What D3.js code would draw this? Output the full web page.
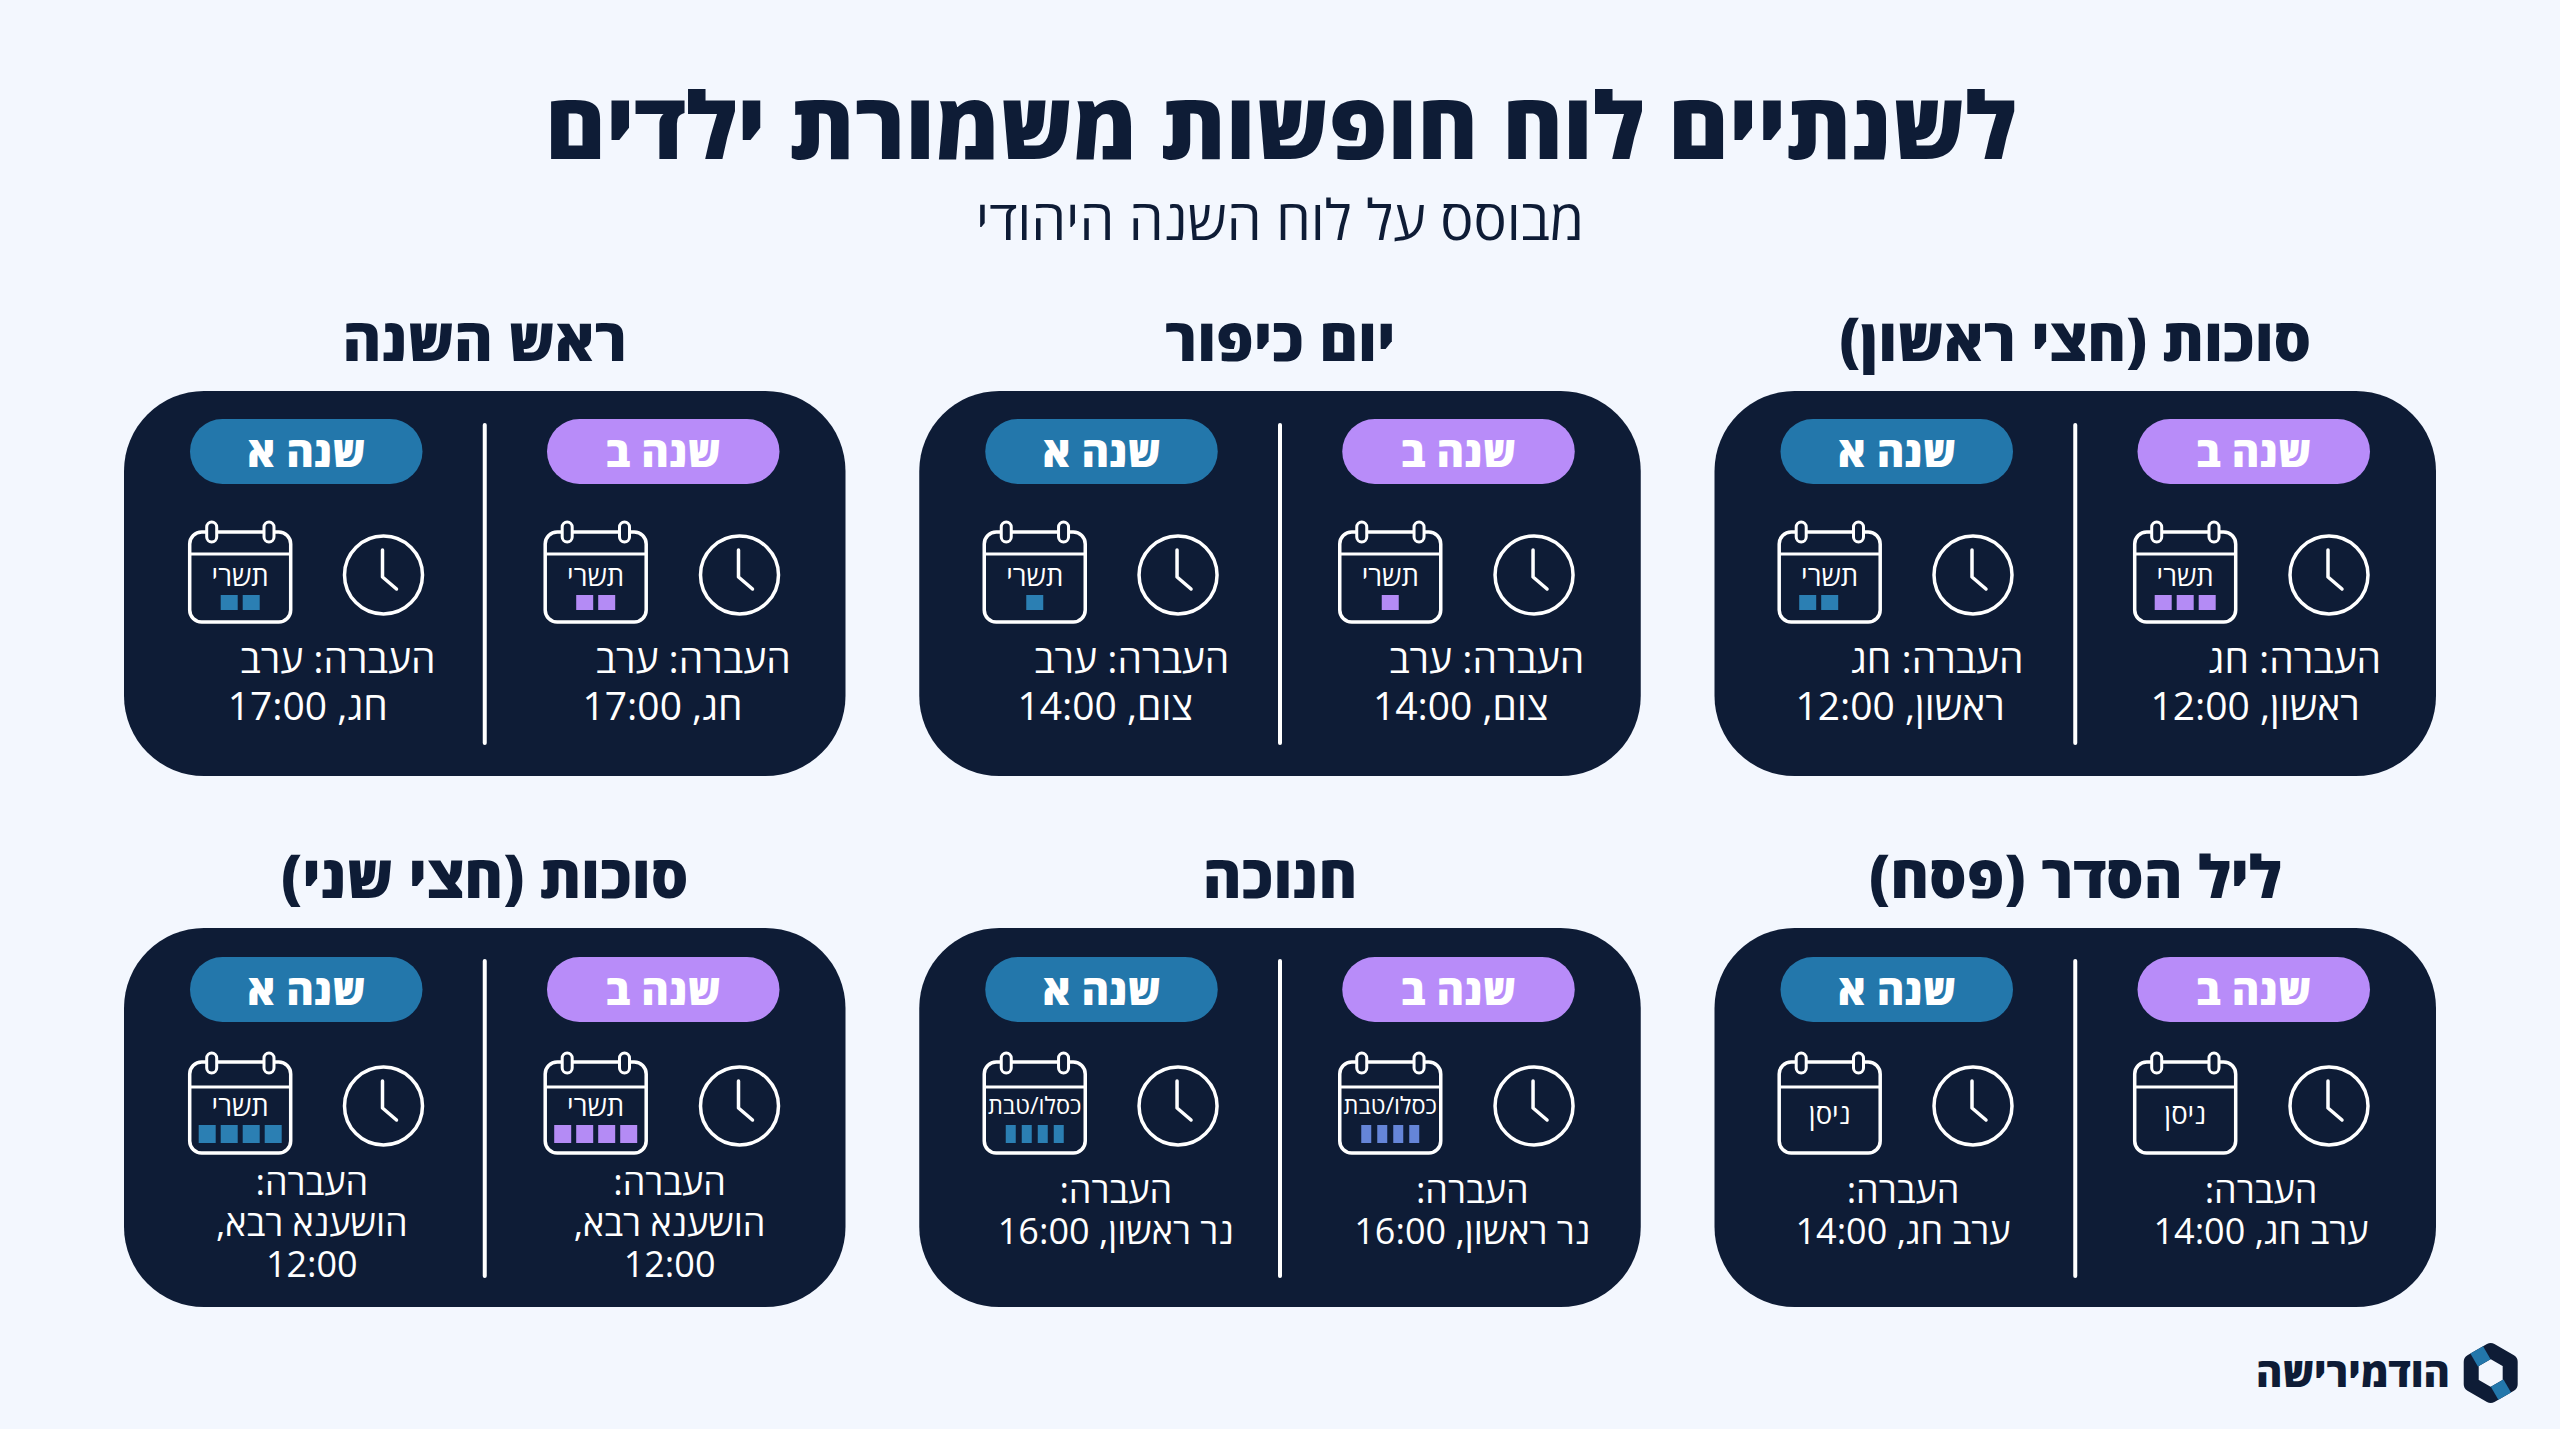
<!DOCTYPE html>
<html lang="he">
<head>
<meta charset="utf-8">
<title>לוח חופשות משמורת ילדים</title>
<script src="https://cdn.jsdelivr.net/npm/d3@7"></script>
<style>
  html, body { margin: 0; padding: 0; background: #f3f7fe; }
  svg { display: block; direction: rtl; font-family: "Open Sans", "Noto Sans", sans-serif; }
</style>
</head>
<body>
<div id="chart"></div>
<script>
// data, first card is top right, reading order is right to left
var mainTitle = "לשנתיים לוח חופשות משמורת ילדים";
var subTitle = "מבוסס על לוח השנה היהודי";
var brandName = "הודמירישה";
var holidays = ["סוכות (חצי ראשון)", "יום כיפור", "ראש השנה", "ליל הסדר (פסח)", "חנוכה", "סוכות (חצי שני)"];
var months = ["תשרי", "תשרי", "תשרי", "ניסן", "כסלו/טבת", "תשרי"];
var yearLabels = ["שנה ב", "שנה א"];
var daysYearB = [3, 1, 2, 0, 4, 4];
var daysYearA = [2, 1, 2, 0, 4, 4];
var transfers = [
  ["העברה: חג", "ראשון, 12:00"],
  ["העברה: ערב", "צום, 14:00"],
  ["העברה: ערב", "חג, 17:00"],
  ["העברה:", "ערב חג, 14:00"],
  ["העברה:", "נר ראשון, 16:00"],
  ["העברה:", "הושענא רבא,", "12:00"]
];

// layout
var width = 2560, height = 1429;
var navy = "#0e1c36", white = "#ffffff";
var yearColors = ["#b88cf9", "#2377ab"];
var squareColors = ["#b48bf5", "#2b7fb3"];
var hanukkahColors = ["#6585d8", "#2b7fb3"];
var cardW = 721.5;
var cardX = d3.scalePoint().domain([0, 1, 2]).range([1714.5, 124]);
var cardY = d3.scalePoint().domain([0, 1]).range([391, 928]);
var rows = [
  { h: 385, lineTop: 34, lineBottom: 352, pillY: 28, calTop: 141, calH: 90, headH: 22, ringTop: 131, clockY: 184, monthY: 195, squareY: 204, squareH: 15, lineY: [282, 329], lineSize: 39 },
  { h: 379, lineTop: 33, lineBottom: 348, pillY: 29, calTop: 134, calH: 91, headH: 25, ringTop: 125, clockY: 178, monthY: 188, squareY: 197, squareH: 18, lineY: [274.7, 316], lineSize: 36 }
];
// panel 0 is the right half (year B), panel 1 the left half (year A)
var pillX = [423, 66], pillW = 232.5, calX = [420.2, 64.7], calW = 101, clockX = [614.5, 258.5];
var iconShift = [0, 0.3, 1];
var textCx = [[540.5, 185.5], [541.5, 186], [538.5, 183.7], [546.5, 188.5], [553, 196.5], [545.6, 187.8]];
var firstLineRight = [[666.6, 309], [665, 310], [666.7, 311.4]];

var svg = d3.select("#chart").append("svg")
    .attr("width", width)
    .attr("height", height)
    .attr("viewBox", "0 0 " + width + " " + height);

svg.append("rect").attr("width", width).attr("height", height).attr("fill", "#f3f7fe");

svg.append("text")
    .attr("x", 1280.5).attr("y", 159)
    .attr("text-anchor", "middle")
    .attr("font-size", 92.5).attr("font-weight", 800)
    .attr("fill", navy)
    .text(mainTitle);

svg.append("text")
    .attr("x", 1280).attr("y", 240)
    .attr("text-anchor", "middle")
    .attr("font-size", 55.5)
    .attr("fill", navy)
    .text(subTitle);

var cards = svg.selectAll("g.card")
  .data(holidays)
  .enter().append("g")
    .attr("class", "card")
    .attr("transform", function(d, i) {
      return "translate(" + cardX(i % 3) + "," + cardY(Math.floor(i / 3)) + ")";
    });

cards.append("text")
    .attr("x", cardW / 2)
    .attr("y", -30)
    .attr("text-anchor", "middle")
    .attr("font-size", 59).attr("font-weight", 800)
    .attr("fill", navy)
    .text(function(d) { return d; });

cards.append("rect")
    .attr("width", cardW)
    .attr("height", function(d, i) { return rows[Math.floor(i / 3)].h; })
    .attr("rx", 80).attr("ry", 80)
    .attr("fill", navy);

cards.append("line")
    .attr("x1", cardW / 2).attr("x2", cardW / 2)
    .attr("y1", function(d, i) { return rows[Math.floor(i / 3)].lineTop; })
    .attr("y2", function(d, i) { return rows[Math.floor(i / 3)].lineBottom; })
    .attr("stroke", white).attr("stroke-width", 4).attr("stroke-linecap", "round");

cards.each(function(holiday, i) {
  var card = d3.select(this);
  var r = rows[Math.floor(i / 3)];
  var shift = iconShift[i % 3];

  yearLabels.forEach(function(label, p) {
    var panel = card.append("g");

    panel.append("rect")
        .attr("x", pillX[p]).attr("y", r.pillY)
        .attr("width", pillW).attr("height", 65)
        .attr("rx", 32.5)
        .attr("fill", yearColors[p]);

    panel.append("text")
        .attr("x", pillX[p] + pillW / 2)
        .attr("y", r.pillY + 48)
        .attr("text-anchor", "middle")
        .attr("font-size", 42).attr("font-weight", 800)
        .attr("fill", white)
        .text(label);

    // calendar icon
    var cal = panel.append("g").attr("transform", "translate(" + (calX[p] + shift) + ",0)");
    cal.append("rect")
        .attr("y", r.calTop).attr("width", calW).attr("height", r.calH)
        .attr("rx", 12)
        .attr("fill", "none").attr("stroke", white).attr("stroke-width", 3.5);
    cal.append("line")
        .attr("x1", 0).attr("x2", calW)
        .attr("y1", r.calTop + r.headH).attr("y2", r.calTop + r.headH)
        .attr("stroke", white).attr("stroke-width", 3);
    cal.selectAll("rect.ring")
      .data([22, 79.3])
      .enter().append("rect")
        .attr("class", "ring")
        .attr("x", function(d) { return d - 5; })
        .attr("y", r.ringTop)
        .attr("width", 10).attr("height", 20)
        .attr("rx", 5)
        .attr("fill", navy).attr("stroke", white).attr("stroke-width", 3);

    // month inside the calendar
    var month = months[i];
    var noDays = month === "ניסן";
    var narrow = month.length > 5;
    cal.append("text")
        .attr("x", calW / 2)
        .attr("y", noDays ? r.monthY + 8 : (narrow ? r.monthY - 2 : r.monthY))
        .attr("text-anchor", "middle")
        .attr("font-size", narrow ? 23.5 : 27.5)
        .attr("fill", white)
        .text(month);

    // squares for the holiday days
    var count = (p === 0 ? daysYearB : daysYearA)[i];
    // sukkot year A keeps a third empty slot on the right
    var slots = (i === 0 && p === 1) ? 3 : count;
    var step = narrow ? 16 : 22, boxW = narrow ? 10 : 17;
    var dayX = d3.scaleLinear()
        .domain([0, 1])
        .range([0, step]);
    var startX = (calW - (slots * step - (step - boxW))) / 2;
    var fill = (narrow ? hanukkahColors : squareColors)[p];
    cal.selectAll("rect.day")
      .data(d3.range(count))
      .enter().append("rect")
        .attr("class", "day")
        .attr("x", function(d) { return startX + dayX(d); })
        .attr("y", r.squareY)
        .attr("width", boxW).attr("height", r.squareH)
        .attr("fill", fill);

    // clock icon
    var clock = panel.append("g")
        .attr("transform", "translate(" + (clockX[p] + shift) + "," + r.clockY + ")");
    clock.append("circle")
        .attr("r", 39)
        .attr("fill", "none").attr("stroke", white).attr("stroke-width", 3.5);
    clock.append("polyline")
        .attr("points", "-1,-25 -1,2 13,14")
        .attr("fill", "none").attr("stroke", white).attr("stroke-width", 3.5)
        .attr("stroke-linecap", "round").attr("stroke-linejoin", "round");

    // transfer text
    var lines = transfers[i];
    var lineY = lines.length === 3 ? [267, 308, 349] : r.lineY;
    panel.selectAll("text.transfer")
      .data(lines)
      .enter().append("text")
        .attr("class", "transfer")
        .attr("x", function(d, j) {
          return (i < 3 && j === 0) ? firstLineRight[i][p] : textCx[i][p];
        })
        .attr("y", function(d, j) { return lineY[j]; })
        .attr("text-anchor", function(d, j) {
          return (i < 3 && j === 0) ? "start" : "middle";
        })
        .attr("font-size", r.lineSize)
        .attr("fill", white)
        .text(function(d) { return d; });
  });
});

// logo, bottom right
var logo = svg.append("g").attr("transform", "translate(2490.7,1373)");
var hexR = 22.5;
var corners = d3.range(6).map(function(k) {
  var a = -Math.PI / 2 + k * Math.PI / 3;
  return [hexR * Math.cos(a), hexR * Math.sin(a)];
});
logo.append("path")
    .attr("d", d3.line().curve(d3.curveLinearClosed)(corners))
    .attr("fill", "none").attr("stroke", navy).attr("stroke-width", 15).attr("stroke-linejoin", "round");
[[5, 0], [2, 3]].forEach(function(e) {
  var a = corners[e[0]], b = corners[e[1]];
  var at = function(t) { return [a[0] + (b[0] - a[0]) * t, a[1] + (b[1] - a[1]) * t]; };
  logo.append("path")
      .attr("d", d3.line()([at(0.15), at(0.8)]))
      .attr("stroke", "#2377ab").attr("stroke-width", 15);
});
svg.append("text")
    .attr("x", 2353).attr("y", 1387)
    .attr("text-anchor", "middle")
    .attr("font-size", 40).attr("font-weight", 800)
    .attr("fill", navy)
    .text(brandName);
</script>
</body>
</html>
